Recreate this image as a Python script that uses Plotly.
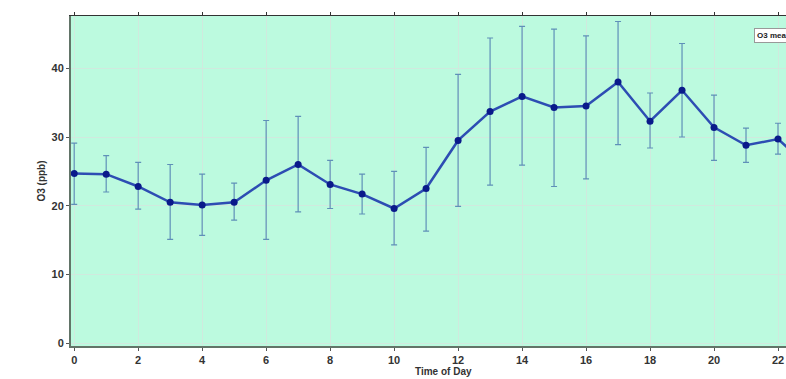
import plotly.graph_objects as go

hours = list(range(24))
o3_mean = [24.7, 24.6, 22.8, 20.5, 20.1, 20.5, 23.7, 26.0, 23.1, 21.7, 19.6, 22.5,
           29.5, 33.7, 35.9, 34.3, 34.5, 38.0, 32.3, 36.8, 31.4, 28.8, 29.7, 25.5]
o3_upper = [29.1, 27.3, 26.3, 26.0, 24.6, 23.3, 32.4, 33.0, 26.6, 24.6, 25.0, 28.5,
            39.1, 44.4, 46.1, 45.7, 44.7, 46.8, 36.4, 43.6, 36.1, 31.3, 32.0, 28.5]
o3_lower = [20.2, 22.0, 19.5, 15.1, 15.7, 17.9, 15.1, 19.1, 19.6, 18.8, 14.3, 16.3,
            19.9, 23.0, 25.9, 22.8, 23.9, 28.9, 28.4, 30.0, 26.6, 26.3, 27.5, 22.5]
x_ticks = list(range(0, 24, 2))
y_ticks = [0, 10, 20, 30, 40]

err_plus = [u - m for u, m in zip(o3_upper, o3_mean)]
err_minus = [m - l for m, l in zip(o3_mean, o3_lower)]

fig = go.Figure()
fig.add_trace(go.Scatter(
    x=hours, y=o3_mean, mode="lines+markers", name="O3 mean",
    line=dict(color="#2d4db3", width=2.5),
    marker=dict(color="#0a1a8a", size=7),
    error_y=dict(type="data", symmetric=False, array=err_plus, arrayminus=err_minus,
                 color="#5f90b8", thickness=1.2, width=3),
    showlegend=False,
))
# invisible trace for top axis
fig.add_trace(go.Scatter(x=[0], y=[0], xaxis="x2", mode="markers",
                         marker=dict(opacity=0), showlegend=False, hoverinfo="skip"))

tickfont = dict(family="Liberation Sans, Arial, sans-serif", size=11, color="#333333", weight="bold")

fig.update_layout(
    width=786, height=379,
    margin=dict(l=71, r=0, t=16, b=33),
    paper_bgcolor="white",
    plot_bgcolor="#bcfadf",
    xaxis=dict(range=[-0.1, 22.25], tickvals=x_ticks, tickfont=tickfont,
               showgrid=True, gridcolor="#d0e9de", gridwidth=1,
               showline=True, linecolor="#627468", linewidth=2,
               ticks="outside", ticklen=3, tickcolor="#555555",
               zeroline=False),
    xaxis2=dict(range=[-0.1, 22.25], overlaying="x", side="top", anchor="y",
                tickvals=x_ticks, showticklabels=False, showgrid=False,
                showline=True, linecolor="#333333", linewidth=1,
                ticks="outside", ticklen=3, tickcolor="#333333", zeroline=False),
    yaxis=dict(range=[-0.4, 47.6], tickvals=y_ticks, tickfont=tickfont,
               showgrid=True, gridcolor="#d0e9de", gridwidth=1,
               showline=True, linecolor="#627468", linewidth=2,
               ticks="outside", ticklen=3, tickcolor="#555555",
               zeroline=False,
               title=dict(text="O3 (ppb)", standoff=4,
                          font=dict(family="Liberation Sans, Arial, sans-serif", size=10,
                                    color="#333333", weight="bold"))),
    annotations=[
        dict(text="Time of Day", xref="x", yref="paper", x=11.53, y=-0.076,
             xanchor="center", yanchor="middle", showarrow=False,
             font=dict(family="Liberation Sans, Arial, sans-serif", size=10,
                       color="#333333", weight="bold")),
        dict(text="O3 mean", xref="paper", yref="paper", x=0.955, y=0.941,
             xanchor="left", yanchor="middle", showarrow=False,
             bgcolor="white", bordercolor="#999999", borderwidth=1, borderpad=2,
             font=dict(family="Liberation Sans, Arial, sans-serif", size=8,
                       color="#222222", weight="bold")),
    ],
)

fig.write_html("out.html")
